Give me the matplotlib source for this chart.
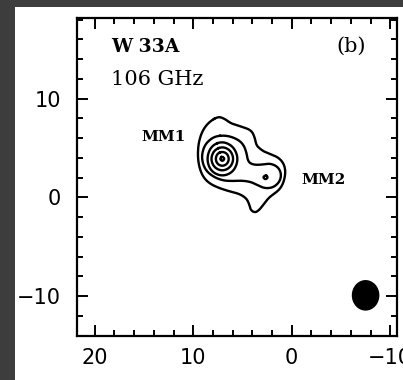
import numpy as np
import matplotlib.pyplot as plt
from matplotlib.patches import Ellipse, Rectangle
from matplotlib.ticker import MultipleLocator

# contour paths (arcsec offsets, RA grows to the left)
outer_x = [7.47, 8.4, 9.05, 9.45, 9.55, 9.4, 9.0, 8.35, 7.4, 6.3, 5.3, 4.6, 4.31, 4.17, 3.74, 3.3, 2.83, 2.3,
           1.7, 1.1, 0.75, 0.62, 0.85, 1.38, 2.1, 2.75, 3.26, 3.6, 3.76, 4.1, 4.95, 6.13, 6.8]
outer_y = [8.2, 7.63, 6.79, 5.6, 4.26, 3.07, 2.06, 1.4, 0.95, 0.6, 0.35, -0.1, -0.7, -1.29, -1.56, -1.29, -0.68, 0.0,
           0.4, 0.95, 1.75, 2.7, 3.5, 4.05, 4.35, 4.6, 4.95, 5.3, 6.1, 6.79, 7.12, 7.46, 7.96]

lev2_x = [7.8, 6.63, 5.6, 4.95, 4.6, 4.44, 3.9, 3.1, 2.2, 1.4, 1.05, 1.2, 1.85, 2.7, 3.4, 4.1, 5.0, 6.0, 7.0, 8.0,
          8.8, 9.15, 9.0, 8.6]
lev2_y = [6.2, 6.28, 5.94, 5.43, 4.6, 3.6, 3.3, 3.3, 3.45, 3.1, 2.4, 1.6, 1.0, 0.9, 1.2, 1.55, 1.7, 1.65, 1.7, 2.1,
          2.8, 3.9, 4.9, 5.6]

# concentric rings round MM1
lev3_x = [7.05, 8.2, 8.65, 8.22, 7.05, 5.88, 5.4, 5.9]
lev3_y = [5.7, 5.2, 3.9, 2.63, 2.1, 2.6, 3.9, 5.15]
lev4_x = [7.05, 7.88, 8.23, 7.88, 7.05, 6.22, 5.87, 6.22]
lev4_y = [5.15, 4.78, 3.9, 3.02, 2.65, 3.02, 3.9, 4.78]
lev5_x = [7.05, 7.55, 7.75, 7.55, 7.05, 6.55, 6.35, 6.55]
lev5_y = [4.65, 4.43, 3.9, 3.37, 3.15, 3.37, 3.9, 4.43]

# small peak contours
mm1_pk_x = [7.05, 7.3, 7.05, 6.8]
mm1_pk_y = [4.15, 3.9, 3.65, 3.9]
mm2_pk_x = [2.66, 2.4, 2.66, 2.92]
mm2_pk_y = [2.25, 2.03, 1.8, 2.03]

# beam
beam_x, beam_y = -7.5, -9.93
beam_w, beam_h = 2.8, 3.1


def chaikin(x, y, n=3):
    # corner cutting on a closed path, just to round the traced polygon
    p = np.column_stack([x, y])
    for _ in range(n):
        q = np.roll(p, -1, axis=0)
        p = np.column_stack([0.75 * p + 0.25 * q, 0.25 * p + 0.75 * q]).reshape(-1, 2)
    p = np.vstack([p, p[:1]])
    return p[:, 0], p[:, 1]


fig = plt.figure(figsize=(4.03, 3.80), dpi=100, facecolor='#3d3d3d')
fig.patches.append(Rectangle((15 / 403, 0), 1, 1 - 7 / 380, transform=fig.transFigure,
                             facecolor='white', edgecolor='none', zorder=-1))
ax = fig.add_axes([0.1923, 0.1145, 0.7921, 0.8373])

for cx, cy, n in [(outer_x, outer_y, 3), (lev2_x, lev2_y, 3), (lev3_x, lev3_y, 3),
                  (lev4_x, lev4_y, 3), (lev5_x, lev5_y, 3),
                  (mm1_pk_x, mm1_pk_y, 1), (mm2_pk_x, mm2_pk_y, 1)]:
    sx, sy = chaikin(cx, cy, n)
    ax.plot(sx, sy, color='black', lw=1.7, solid_joinstyle='round')

ax.add_patch(Ellipse((beam_x, beam_y), beam_w, beam_h, facecolor='black', edgecolor='none'))

ax.set_xlim(21.75, -10.66)
ax.set_ylim(-14.1, 18.14)

ax.xaxis.set_major_locator(MultipleLocator(10))
ax.xaxis.set_minor_locator(MultipleLocator(2))
ax.yaxis.set_major_locator(MultipleLocator(10))
ax.yaxis.set_minor_locator(MultipleLocator(2))
ax.tick_params(which='both', direction='in', top=True, right=True, width=1.4, colors='black')
ax.tick_params(which='major', length=8)
ax.tick_params(which='minor', length=4.5)
ax.tick_params(axis='x', pad=8, labelsize=15)
ax.tick_params(axis='y', pad=12, labelsize=15)
for s in ax.spines.values():
    s.set_linewidth(1.6)

ax.text(18.3, 15.26, 'W 33A', family='DejaVu Serif', weight='bold', fontsize=13.5, va='center', ha='left')
ax.text(18.3, 11.9, '106 GHz', family='DejaVu Serif', fontsize=15, va='center', ha='left')
ax.text(-7.5, 15.26, '(b)', family='DejaVu Serif', fontsize=15, va='center', ha='right')
ax.text(10.8, 6.14, 'MM1', family='DejaVu Serif', weight='bold', fontsize=11, va='center', ha='right')
ax.text(-0.98, 1.75, 'MM2', family='DejaVu Serif', weight='bold', fontsize=11, va='center', ha='left')

fig.savefig('out.png', dpi=100, facecolor=fig.get_facecolor())
